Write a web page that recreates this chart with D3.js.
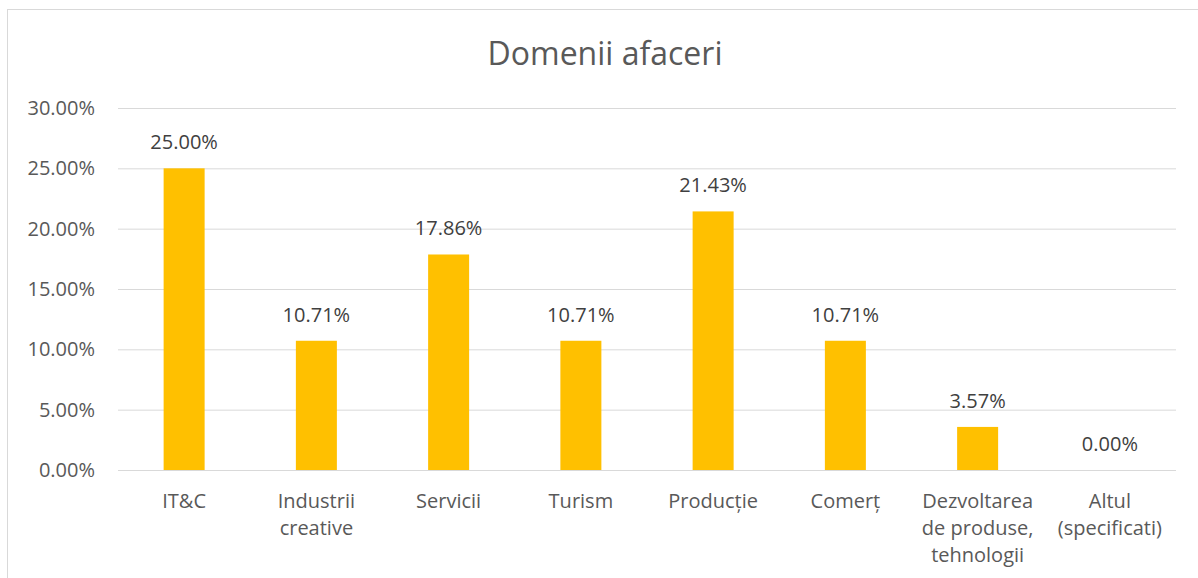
<!DOCTYPE html>
<html>
<head>
<meta charset="utf-8">
<script src="https://cdn.jsdelivr.net/npm/d3@7"></script>
<style>
  body { margin: 0; background: #fff; }
  svg { font-family: "Open Sans", sans-serif; }
</style>
</head>
<body>
<div id="chart"></div>
<script>
// data
var categories = ["IT&C", "Industrii creative", "Servicii", "Turism", "Producție", "Comerț", "Dezvoltarea de produse, tehnologii", "Altul (specificati)"];
var labelLines = [["IT&C"], ["Industrii", "creative"], ["Servicii"], ["Turism"], ["Producție"], ["Comerț"], ["Dezvoltarea", "de produse,", "tehnologii"], ["Altul", "(specificati)"]];
var values = [0.25, 0.1071, 0.1786, 0.1071, 0.2143, 0.1071, 0.0357, 0];
var yTicks = [0, 0.05, 0.10, 0.15, 0.20, 0.25, 0.30];
var title = "Domenii afaceri";

var WIDTH = 1198, HEIGHT = 578;
var MARGIN = { LEFT: 118, RIGHT: 22, TOP: 108, BOTTOM: 108 };
var textColor = "#595959";
var FONTSIZE = 20;

var svg = d3.select("#chart").append("svg")
  .attr("width", WIDTH)
  .attr("height", HEIGHT);

// chart border
svg.append("rect")
  .attr("x", 7.5).attr("y", 9.5)
  .attr("width", WIDTH).attr("height", HEIGHT)
  .attr("fill", "none")
  .attr("stroke", "#d9d9d9")
  .attr("stroke-width", 1);

svg.append("text")
  .attr("x", 605).attr("y", 65)
  .attr("text-anchor", "middle")
  .attr("fill", textColor)
  .attr("font-size", 32)
  .text(title);

var x = d3.scaleBand().domain(categories)
  .range([MARGIN.LEFT, WIDTH - MARGIN.RIGHT])
  .paddingInner(0.69).paddingOuter(0.345);
var y = d3.scaleLinear().domain([0, 0.30])
  .range([HEIGHT - MARGIN.BOTTOM, MARGIN.TOP]);

var fmt = d3.format(".2%");

// gridlines + y labels
var yAxis = svg.append("g")
  .attr("class", "y axis")
  .attr("transform", "translate(" + MARGIN.LEFT + ",0)")
  .call(d3.axisLeft(y).tickValues(yTicks).tickFormat(fmt)
    .tickSize(-(WIDTH - MARGIN.LEFT - MARGIN.RIGHT)).tickPadding(23));
yAxis.select(".domain").remove();
yAxis.selectAll(".tick line").attr("stroke", "#d9d9d9").attr("stroke-width", 1);
yAxis.selectAll(".tick text")
  .attr("fill", textColor)
  .attr("font-size", FONTSIZE)
  .attr("font-family", "'Open Sans', sans-serif");

// bars
svg.append("g").selectAll("rect").data(values).enter().append("rect")
  .attr("x", (d, i) => x(categories[i]))
  .attr("y", d => y(d))
  .attr("width", x.bandwidth())
  .attr("height", d => y(0) - y(d))
  .attr("fill", "#ffc000");

// data labels
svg.append("g").selectAll("text").data(values).enter().append("text")
  .attr("x", (d, i) => x(categories[i]) + x.bandwidth() / 2)
  .attr("y", d => y(d) - 19)
  .attr("text-anchor", "middle")
  .attr("fill", "#404040")
  .attr("font-size", FONTSIZE)
  .text(d => fmt(d));

// category labels
var xl = svg.append("g").selectAll("text").data(labelLines).enter().append("text")
  .attr("x", (d, i) => x(categories[i]) + x.bandwidth() / 2)
  .attr("y", y(0) + 38)
  .attr("text-anchor", "middle")
  .attr("fill", textColor)
  .attr("font-size", FONTSIZE);
xl.selectAll("tspan").data(d => d).enter().append("tspan")
  .attr("x", function () { return d3.select(this.parentNode).attr("x"); })
  .attr("dy", (d, i) => i ? 27 : 0)
  .text(d => d);
</script>
</body>
</html>
